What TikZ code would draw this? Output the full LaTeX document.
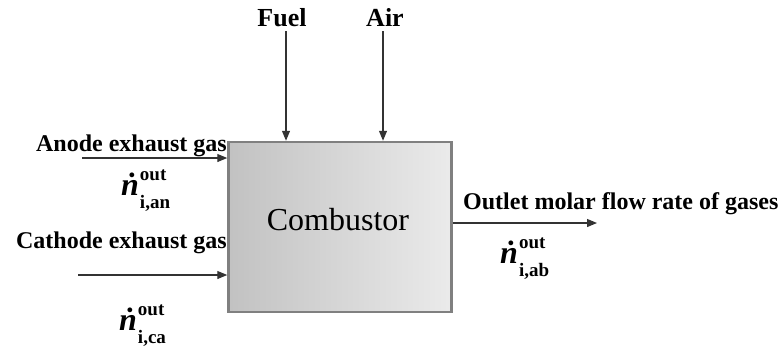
\documentclass[tikz,border=0pt]{standalone}
\usepackage{fontspec}
\setmainfont{Liberation Serif}
\usetikzlibrary{arrows.meta}

\newcommand{\molflow}[1]{\textit{\.n}\kern1pt\rlap{\raisebox{15pt}{\fontsize{19}{19}\selectfont out}}\raisebox{-13pt}{\fontsize{19}{19}\selectfont i,#1}}

\begin{document}
\begin{tikzpicture}[
    x=1pt, y=-1pt,
    lbl/.style={font=\fontsize{24}{24}\selectfont\bfseries, inner sep=0pt},
    tlbl/.style={font=\fontsize{26}{26}\selectfont\bfseries, inner sep=0pt},
    flow/.style={font=\fontsize{32}{32}\selectfont\bfseries, inner sep=0pt},
    unit/.style={draw=black!50, line width=2.5pt, left color=black!24, right color=black!8, minimum width=223pt, minimum height=170pt, inner sep=0pt},
    arrow/.style={-{Triangle[length=10pt,width=8pt]}, line width=1.2pt, black!80}
]
\useasboundingbox (0,0) rectangle (782,356);

\node[unit] (comb) at (340,227) {};
\node[font=\fontsize{32}{32}\selectfont, inner sep=0pt, anchor=base] (combname) at (338,230) {Combustor};

\node[tlbl, anchor=base] (fuel) at (282,27) {Fuel};
\node[tlbl, anchor=base] (air) at (385,27) {Air};
\node[lbl, anchor=base east] (anode) at (227,151) {Anode exhaust gas};
\node[lbl, anchor=base east] (cathode) at (227,248) {Cathode exhaust gas};
\node[lbl, anchor=base west] (outlet) at (463,209) {Outlet molar flow rate of gases};

\node[flow, anchor=base west] (nan) at (121,195) {\molflow{an}};
\node[flow, anchor=base west] (nca) at (119,330) {\molflow{ca}};
\node[flow, anchor=base west] (nab) at (500,263) {\molflow{ab}};

\coordinate (fuelin) at (286,31);
\coordinate (airin) at (383,31);
\coordinate (anin) at (82,158);
\coordinate (cain) at (78,275);
\coordinate (about) at (597,223);

\draw[arrow] (fuelin) -- (fuelin |- comb.north);
\draw[arrow] (airin) -- (airin |- comb.north);
\draw[arrow] (anin) -- (anin -| comb.west);
\draw[arrow] (cain) -- (cain -| comb.west);
\draw[arrow] (comb.east |- about) -- (about);
\end{tikzpicture}
\end{document}
